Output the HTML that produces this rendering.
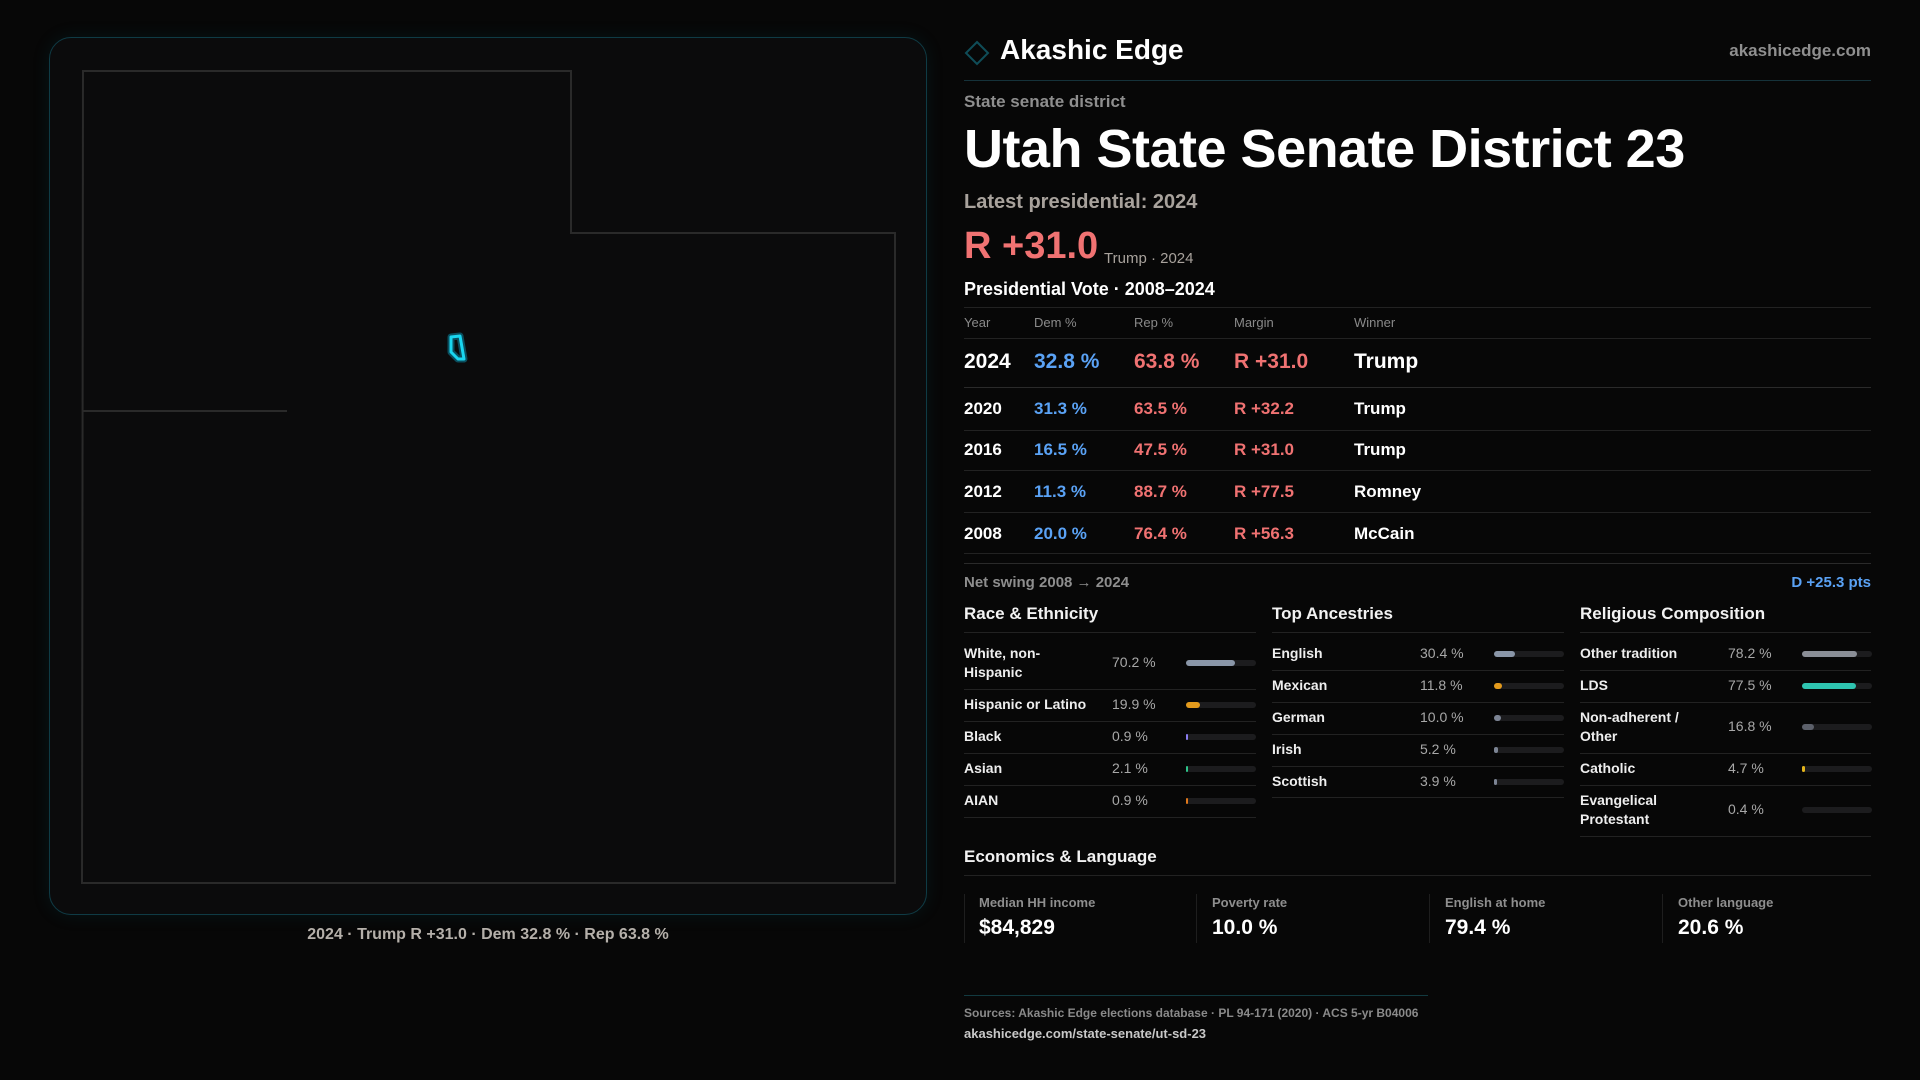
<!DOCTYPE html>
<html><head><meta charset="utf-8"><style>
*{margin:0;padding:0;box-sizing:border-box}
body{width:1920px;height:1080px;background:#070707;font-family:"Liberation Sans",sans-serif;color:#fff;position:relative;overflow:hidden}
.a{position:absolute;white-space:nowrap}
.g{color:#9a9a9a}
.line{position:absolute;height:1px;background:#222}
.sec{font-size:17px;font-weight:bold;color:#f2f2f2}
.lab{font-size:14px;font-weight:bold;color:#eee;line-height:19px}
.val{font-size:14px;color:#a8a8a8}
.bar{position:absolute;height:6px;border-radius:3px;background:#1c1c1e;width:70px}
.bar i{position:absolute;left:0;top:0;height:6px;border-radius:3px}
.red{color:#f07272}.blue{color:#5aa2f5}
</style></head><body>
<div class="a" style="left:49px;top:37px;width:878px;height:878px;border:1px solid #0f3b45;border-radius:22px;background:#0b0b0c;box-shadow:0 0 18px rgba(0,120,140,0.12)"></div>
<svg class="a" style="left:0;top:0" width="960" height="960">
<path d="M83 71 L571 71 L571 233 L895 233 L895 883 L82 883 Z" fill="none" stroke="#2a2a2a" stroke-width="2"/>
<path d="M82 411 L287 411" stroke="#2a2a2a" stroke-width="2"/>
<path d="M451 337 L460 336 L464 359 L458 359 L451 352 Z" fill="none" stroke="#0a4e5e" stroke-width="7" stroke-linejoin="round"/>
<path d="M451 337 L460 336 L464 359 L458 359 L451 352 Z" fill="none" stroke="#19d6f0" stroke-width="3" stroke-linejoin="round"/>
</svg>
<div class="a" style="left:49px;width:878px;top:926px;text-align:center;font-size:16px;font-weight:bold;color:#b5b0aa">2024 · Trump R +31.0 · Dem 32.8 % · Rep 63.8 %</div>

<svg class="a" style="left:964px;top:40px" width="26" height="26"><path d="M13 2 L24 13 L13 24 L2 13 Z" fill="none" stroke="#0f4d58" stroke-width="2"/></svg>
<div class="a" style="left:1000px;top:34px;font-size:28px;font-weight:bold;color:#fff">Akashic Edge</div>
<div class="a g" style="right:49px;top:41px;font-size:17px;font-weight:bold;color:#8f8f8f">akashicedge.com</div>
<div class="line" style="left:964px;width:907px;top:80px;background:#15323a"></div>
<div class="a" style="left:964px;top:92px;font-size:17px;font-weight:bold;color:#8e8e8e">State senate district</div>
<div class="a" style="left:964px;top:118px;font-size:54px;font-weight:bold;letter-spacing:-0.5px;color:#fff">Utah State Senate District 23</div>
<div class="a" style="left:964px;top:191px;font-size:20px;font-weight:bold;color:#a8a29c">Latest presidential: 2024</div>
<div class="a red" style="left:964px;top:225px;font-size:38px;font-weight:bold">R +31.0</div>
<div class="a" style="left:1104px;top:250px;font-size:15px;color:#a8a29c">Trump · 2024</div>
<div class="a" style="left:964px;top:279px;font-size:18px;font-weight:bold;color:#fff">Presidential Vote · 2008–2024</div>
<div class="line" style="left:964px;width:907px;top:307px"></div>
<div class="a" style="left:964px;top:315px;font-size:13px;color:#8a8a8a">Year</div>
<div class="a" style="left:1034px;top:315px;font-size:13px;color:#8a8a8a">Dem %</div>
<div class="a" style="left:1134px;top:315px;font-size:13px;color:#8a8a8a">Rep %</div>
<div class="a" style="left:1234px;top:315px;font-size:13px;color:#8a8a8a">Margin</div>
<div class="a" style="left:1354px;top:315px;font-size:13px;color:#8a8a8a">Winner</div>
<div class="line" style="left:964px;width:907px;top:338px"></div>
<div style="position:absolute;left:964px;top:350px;font-size:21px;font-weight:bold;white-space:nowrap">
<span class="a" style="left:0">2024</span><span class="a blue" style="left:70px">32.8 %</span><span class="a red" style="left:170px">63.8 %</span><span class="a red" style="left:270px">R +31.0</span><span class="a" style="left:390px">Trump</span></div>
<div class="line" style="left:964px;width:907px;top:387px;background:#2a2a2a"></div>
<div style="position:absolute;left:964px;top:399px;font-size:17px;font-weight:bold"><span class="a" style="left:0">2020</span><span class="a blue" style="left:70px">31.3 %</span><span class="a red" style="left:170px">63.5 %</span><span class="a red" style="left:270px">R +32.2</span><span class="a" style="left:390px">Trump</span></div>
<div class="line" style="left:964px;width:907px;top:430px"></div>
<div style="position:absolute;left:964px;top:440px;font-size:17px;font-weight:bold"><span class="a" style="left:0">2016</span><span class="a blue" style="left:70px">16.5 %</span><span class="a red" style="left:170px">47.5 %</span><span class="a red" style="left:270px">R +31.0</span><span class="a" style="left:390px">Trump</span></div>
<div class="line" style="left:964px;width:907px;top:470px"></div>
<div style="position:absolute;left:964px;top:482px;font-size:17px;font-weight:bold"><span class="a" style="left:0">2012</span><span class="a blue" style="left:70px">11.3 %</span><span class="a red" style="left:170px">88.7 %</span><span class="a red" style="left:270px">R +77.5</span><span class="a" style="left:390px">Romney</span></div>
<div class="line" style="left:964px;width:907px;top:512px"></div>
<div style="position:absolute;left:964px;top:524px;font-size:17px;font-weight:bold"><span class="a" style="left:0">2008</span><span class="a blue" style="left:70px">20.0 %</span><span class="a red" style="left:170px">76.4 %</span><span class="a red" style="left:270px">R +56.3</span><span class="a" style="left:390px">McCain</span></div>
<div class="line" style="left:964px;width:907px;top:553px"></div>
<div class="line" style="left:964px;width:907px;top:563px;background:#2a2a2a"></div>
<div class="a" style="left:964px;top:574px;font-size:15px;font-weight:bold;color:#8e8e8e">Net swing 2008 → 2024</div>
<div class="a blue" style="right:49px;top:574px;font-size:15px;font-weight:bold">D +25.3 pts</div>

<div class="a sec" style="left:964px;top:604px">Race &amp; Ethnicity</div>
<div class="a sec" style="left:1272px;top:604px">Top Ancestries</div>
<div class="a sec" style="left:1580px;top:604px">Religious Composition</div>

<div class="line" style="left:964px;width:292px;top:632px"></div>
<div class="a lab" style="left:964px;top:644px">White, non-<br>Hispanic</div><div class="a val" style="left:1112px;top:654px">70.2 %</div><div class="bar" style="left:1186px;top:660px"><i style="width:49px;background:#8a96a8"></i></div>
<div class="line" style="left:964px;width:292px;top:689px"></div>
<div class="a lab" style="left:964px;top:695px">Hispanic or Latino</div><div class="a val" style="left:1112px;top:696px">19.9 %</div><div class="bar" style="left:1186px;top:702px"><i style="width:14px;background:#e39a1c"></i></div>
<div class="line" style="left:964px;width:292px;top:721px"></div>
<div class="a lab" style="left:964px;top:727px">Black</div><div class="a val" style="left:1112px;top:728px">0.9 %</div><div class="bar" style="left:1186px;top:734px"><i style="width:2px;background:#8a7cf0"></i></div>
<div class="line" style="left:964px;width:292px;top:753px"></div>
<div class="a lab" style="left:964px;top:759px">Asian</div><div class="a val" style="left:1112px;top:760px">2.1 %</div><div class="bar" style="left:1186px;top:766px"><i style="width:2px;background:#2ec48a"></i></div>
<div class="line" style="left:964px;width:292px;top:785px"></div>
<div class="a lab" style="left:964px;top:791px">AIAN</div><div class="a val" style="left:1112px;top:792px">0.9 %</div><div class="bar" style="left:1186px;top:798px"><i style="width:2px;background:#e0781c"></i></div>
<div class="line" style="left:964px;width:292px;top:817px"></div>

<div class="line" style="left:1272px;width:292px;top:632px"></div>
<div class="a lab" style="left:1272px;top:644px">English</div><div class="a val" style="left:1420px;top:645px">30.4 %</div><div class="bar" style="left:1494px;top:651px"><i style="width:21px;background:#8a96a8"></i></div>
<div class="line" style="left:1272px;width:292px;top:670px"></div>
<div class="a lab" style="left:1272px;top:676px">Mexican</div><div class="a val" style="left:1420px;top:677px">11.8 %</div><div class="bar" style="left:1494px;top:683px"><i style="width:8px;background:#e39a1c"></i></div>
<div class="line" style="left:1272px;width:292px;top:702px"></div>
<div class="a lab" style="left:1272px;top:708px">German</div><div class="a val" style="left:1420px;top:709px">10.0 %</div><div class="bar" style="left:1494px;top:715px"><i style="width:7px;background:#7c8494"></i></div>
<div class="line" style="left:1272px;width:292px;top:734px"></div>
<div class="a lab" style="left:1272px;top:740px">Irish</div><div class="a val" style="left:1420px;top:741px">5.2 %</div><div class="bar" style="left:1494px;top:747px"><i style="width:4px;background:#7c8494"></i></div>
<div class="line" style="left:1272px;width:292px;top:766px"></div>
<div class="a lab" style="left:1272px;top:772px">Scottish</div><div class="a val" style="left:1420px;top:773px">3.9 %</div><div class="bar" style="left:1494px;top:779px"><i style="width:3px;background:#7c8494"></i></div>
<div class="line" style="left:1272px;width:292px;top:797px"></div>

<div class="line" style="left:1580px;width:291px;top:632px"></div>
<div class="a lab" style="left:1580px;top:644px">Other tradition</div><div class="a val" style="left:1728px;top:645px">78.2 %</div><div class="bar" style="left:1802px;top:651px"><i style="width:55px;background:#8a8e96"></i></div>
<div class="line" style="left:1580px;width:291px;top:670px"></div>
<div class="a lab" style="left:1580px;top:676px">LDS</div><div class="a val" style="left:1728px;top:677px">77.5 %</div><div class="bar" style="left:1802px;top:683px"><i style="width:54px;background:#2ec4b0"></i></div>
<div class="line" style="left:1580px;width:291px;top:702px"></div>
<div class="a lab" style="left:1580px;top:708px">Non-adherent /<br>Other</div><div class="a val" style="left:1728px;top:718px">16.8 %</div><div class="bar" style="left:1802px;top:724px"><i style="width:12px;background:#5c606a"></i></div>
<div class="line" style="left:1580px;width:291px;top:753px"></div>
<div class="a lab" style="left:1580px;top:759px">Catholic</div><div class="a val" style="left:1728px;top:760px">4.7 %</div><div class="bar" style="left:1802px;top:766px"><i style="width:3px;background:#e3b41c"></i></div>
<div class="line" style="left:1580px;width:291px;top:785px"></div>
<div class="a lab" style="left:1580px;top:791px">Evangelical<br>Protestant</div><div class="a val" style="left:1728px;top:801px">0.4 %</div><div class="bar" style="left:1802px;top:807px"></div>
<div class="line" style="left:1580px;width:291px;top:836px"></div>

<div class="a sec" style="left:964px;top:847px">Economics &amp; Language</div>
<div class="line" style="left:964px;width:907px;top:875px"></div>
<div class="a" style="left:964px;top:894px;width:1px;height:49px;background:#1e1e1e"></div>
<div class="a" style="left:1196px;top:894px;width:1px;height:49px;background:#1e1e1e"></div>
<div class="a" style="left:1429px;top:894px;width:1px;height:49px;background:#1e1e1e"></div>
<div class="a" style="left:1662px;top:894px;width:1px;height:49px;background:#1e1e1e"></div>
<div class="a" style="left:979px;top:895px;font-size:13px;font-weight:bold;color:#8e8e8e">Median HH income</div>
<div class="a" style="left:979px;top:916px;font-size:21px;font-weight:bold">$84,829</div>
<div class="a" style="left:1212px;top:895px;font-size:13px;font-weight:bold;color:#8e8e8e">Poverty rate</div>
<div class="a" style="left:1212px;top:916px;font-size:21px;font-weight:bold">10.0 %</div>
<div class="a" style="left:1445px;top:895px;font-size:13px;font-weight:bold;color:#8e8e8e">English at home</div>
<div class="a" style="left:1445px;top:916px;font-size:21px;font-weight:bold">79.4 %</div>
<div class="a" style="left:1678px;top:895px;font-size:13px;font-weight:bold;color:#8e8e8e">Other language</div>
<div class="a" style="left:1678px;top:916px;font-size:21px;font-weight:bold">20.6 %</div>

<div class="line" style="left:964px;width:464px;top:995px;background:#123a40"></div>
<div class="a" style="left:964px;top:1006px;font-size:12px;font-weight:bold;color:#8a8a8a">Sources: Akashic Edge elections database · PL 94-171 (2020) · ACS 5-yr B04006</div>
<div class="a" style="left:964px;top:1026px;font-size:13px;font-weight:bold;color:#c8c8c8">akashicedge.com/state-senate/ut-sd-23</div>
</body></html>
